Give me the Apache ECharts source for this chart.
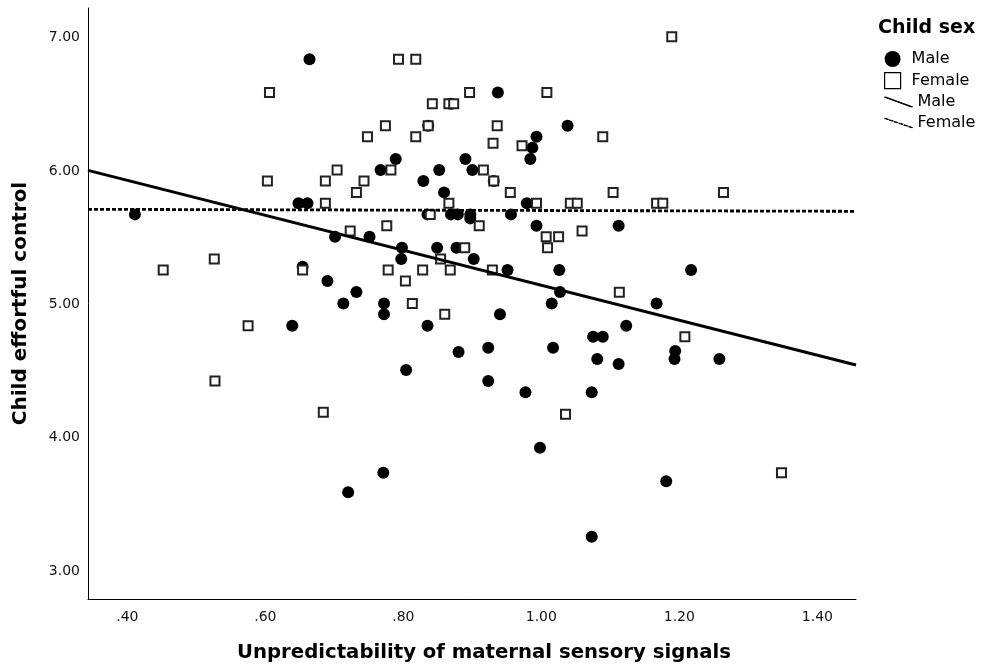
<!DOCTYPE html>
<html>
<head>
<meta charset="utf-8">
<title>Child effortful control</title>
<script src="https://cdn.jsdelivr.net/npm/echarts/dist/echarts.min.js"></script>
<style>
  html, body { margin: 0; padding: 0; background: #fff; }
  #chart { width: 981px; height: 666px; }
</style>
</head>
<body>
<div id="chart"></div>
<script>
// scatter points: [unpredictability, effortful control]
const malePoints = [
  [0.664, 6.838], [0.648, 5.758], [0.661, 5.758], [0.411, 5.675], [0.701, 5.507],
  [0.654, 5.282], [0.690, 5.175], [0.713, 5.007], [0.639, 4.840], [0.937, 6.590],
  [0.869, 6.505], [0.836, 6.340], [1.038, 6.340], [0.993, 6.257], [0.987, 6.175],
  [0.789, 6.090], [0.890, 6.090], [0.984, 6.090], [0.767, 6.007], [0.852, 6.007],
  [0.900, 6.007], [0.829, 5.925], [0.931, 5.925], [0.859, 5.840], [0.979, 5.758],
  [0.835, 5.675], [0.869, 5.675], [0.879, 5.675], [0.897, 5.675], [0.897, 5.645],
  [0.956, 5.675], [0.993, 5.590], [0.751, 5.507], [0.798, 5.425], [0.849, 5.425],
  [0.877, 5.425], [0.797, 5.340], [0.902, 5.340], [0.951, 5.257], [1.026, 5.257],
  [0.732, 5.092], [1.027, 5.092], [0.772, 5.007], [1.015, 5.007], [0.772, 4.925],
  [0.940, 4.925], [0.835, 4.840], [1.075, 4.757], [1.089, 4.757], [0.880, 4.642],
  [0.923, 4.674], [1.017, 4.674], [0.804, 4.507], [0.923, 4.425], [0.977, 4.340],
  [1.073, 4.340], [1.112, 5.590], [1.217, 5.257], [1.167, 5.007], [1.123, 4.840],
  [1.194, 4.650], [1.193, 4.590], [1.081, 4.590], [1.112, 4.552], [1.258, 4.590],
  [0.720, 3.590], [0.771, 3.737], [0.998, 3.924], [1.073, 3.257], [1.181, 3.674]
]
const femalePoints = [
  [0.606, 6.590], [0.603, 5.925], [0.687, 5.925], [0.704, 6.007], [0.687, 5.758],
  [0.526, 5.340], [0.452, 5.257], [0.654, 5.257], [0.575, 4.840], [0.527, 4.425],
  [0.684, 4.190], [0.793, 6.838], [0.818, 6.838], [0.896, 6.590], [1.008, 6.590],
  [0.842, 6.505], [0.866, 6.505], [0.873, 6.505], [0.774, 6.340], [0.836, 6.340],
  [0.936, 6.340], [0.748, 6.257], [0.818, 6.257], [0.930, 6.208], [0.972, 6.190],
  [0.782, 6.007], [0.916, 6.007], [0.743, 5.925], [0.931, 5.925], [0.732, 5.840],
  [0.955, 5.840], [0.866, 5.758], [0.993, 5.758], [1.042, 5.758], [1.052, 5.758],
  [1.167, 5.758], [1.176, 5.758], [0.839, 5.675], [0.910, 5.590], [0.776, 5.590],
  [0.723, 5.550], [1.007, 5.507], [1.025, 5.507], [1.059, 5.550], [1.009, 5.425],
  [0.889, 5.425], [0.854, 5.340], [0.778, 5.257], [0.828, 5.257], [0.868, 5.257],
  [0.929, 5.257], [0.803, 5.175], [0.813, 5.007], [0.860, 4.925], [1.035, 4.175],
  [1.113, 5.090], [1.208, 4.757], [1.189, 7.008], [1.089, 6.257], [1.104, 5.840],
  [1.264, 5.840], [1.348, 3.737]
]

// fit lines, end points at the axis edges
const maleFit = [[0.343, 6.005], [1.456, 4.545]]
const femaleFit = [[0.343, 5.713], [1.456, 5.698]]

const xTicks = [0.4, 0.6, 0.8, 1.0, 1.2, 1.4]
const yTicks = [3, 4, 5, 6, 7]
const xRange = [0.343, 1.456]
const yRange = [2.79, 7.223]

const FONT = 'DejaVu Sans'

// legend icons: hollow square and diagonal lines like SPSS
const squareIcon = 'path://M0,0L16,0L16,16L0,16Z'
const solidIcon = 'path://M0,0L2,0L32,11L30,11Z'
let dashIcon = 'path://'
for (let i = 0; i < 6; i++) {
  const x0 = i * 5.6, x1 = x0 + 3.2
  const y0 = x0 * 11 / 32, y1 = x1 * 11 / 32
  dashIcon += `M${x0},${y0}L${x0 + 1.6},${y0}L${x1 + 1.6},${y1}L${x1},${y1}Z`
}

const legendText = { fontFamily: FONT, fontSize: 16, color: '#000' }
const lineIconStyle = { color: '#000', borderColor: '#000', borderWidth: 1 }

const chart = echarts.init(document.getElementById('chart'))
chart.setOption({
  animation: false,
  backgroundColor: '#fff',
  textStyle: { fontFamily: FONT },
  title: {
    text: 'Child sex',
    left: 873,
    top: 14,
    textStyle: { fontFamily: FONT, fontSize: 19, fontWeight: 'bold', color: '#000' }
  },
  legend: [
    {
      orient: 'vertical',
      left: 879,
      top: 46,
      itemWidth: 28,
      itemHeight: 16,
      itemGap: 5,
      textStyle: legendText,
      data: [
        { name: 'Male', icon: 'circle' },
        { name: 'Female', icon: squareIcon, itemStyle: { color: '#fff', borderColor: '#000', borderWidth: 1.2 } }
      ]
    },
    {
      orient: 'vertical',
      left: 879,
      top: 89,
      itemWidth: 28,
      itemHeight: 16,
      itemGap: 5,
      textStyle: legendText,
      formatter: name => name.replace(' fit', ''),
      data: [
        { name: 'Male fit', icon: solidIcon, itemStyle: lineIconStyle },
        { name: 'Female fit', icon: dashIcon, itemStyle: lineIconStyle }
      ]
    }
  ],
  grid: { left: 88, top: 8, right: 125, bottom: 67, outerBoundsMode: 'none' },
  xAxis: {
    type: 'value',
    min: xRange[0],
    max: xRange[1],
    name: 'Unpredictability of maternal sensory signals',
    nameLocation: 'middle',
    nameGap: 44,
    nameTextStyle: {
      fontFamily: FONT, fontSize: 19.7, fontWeight: 'bold', color: '#000',
      padding: [0, 0, 0, 24]
    },
    axisLine: { lineStyle: { color: '#000', width: 1 } },
    axisTick: { show: false },
    splitLine: { show: false },
    axisLabel: {
      customValues: xTicks,
      margin: 11,
      fontFamily: FONT,
      fontSize: 14,
      color: '#111',
      formatter: v => {
        const s = v.toFixed(2)
        return s.startsWith('0') ? s.slice(1) : s
      }
    }
  },
  yAxis: {
    type: 'value',
    min: yRange[0],
    max: yRange[1],
    name: 'Child effortful control',
    nameLocation: 'middle',
    nameGap: 57,
    nameTextStyle: { fontFamily: FONT, fontSize: 20, fontWeight: 'bold', color: '#000' },
    axisLine: { show: true, lineStyle: { color: '#000', width: 1 } },
    axisTick: { show: false },
    splitLine: { show: false },
    axisLabel: {
      customValues: yTicks,
      margin: 8,
      fontFamily: FONT,
      fontSize: 14,
      color: '#111',
      formatter: v => v.toFixed(2)
    }
  },
  series: [
    {
      name: 'Male',
      type: 'scatter',
      data: malePoints,
      symbol: 'circle',
      symbolSize: 12,
      itemStyle: { color: '#000', opacity: 1 }
    },
    {
      name: 'Female',
      type: 'scatter',
      data: femalePoints,
      symbol: 'rect',
      symbolSize: 9,
      itemStyle: { color: '#fff', borderColor: '#222', borderWidth: 2, opacity: 1 }
    },
    {
      name: 'Male fit',
      type: 'line',
      data: maleFit,
      symbol: 'none',
      silent: true,
      itemStyle: { color: '#000' },
      lineStyle: { color: '#000', width: 3 }
    },
    {
      name: 'Female fit',
      type: 'line',
      data: femaleFit,
      symbol: 'none',
      silent: true,
      itemStyle: { color: '#000' },
      lineStyle: { color: '#000', width: 2.8, type: [4, 2] }
    }
  ]
})
</script>
</body>
</html>
